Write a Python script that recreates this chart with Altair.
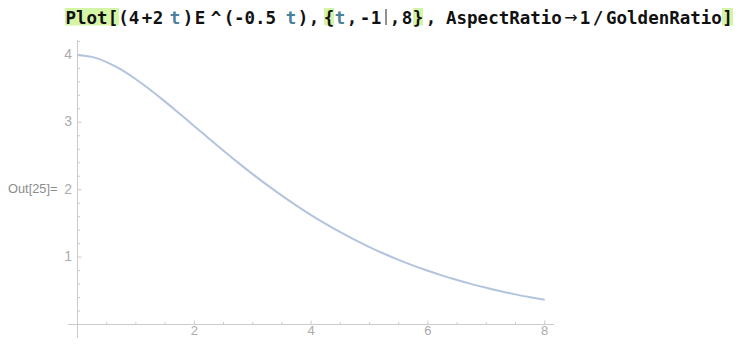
import altair as alt
import pandas as pd

# ---- curve values ----
t_vals = [0, 0.25, 0.5, 0.75, 1, 1.25, 1.5, 1.75, 2, 2.25, 2.5, 2.75, 3, 3.25, 3.5, 3.75,
          4, 4.25, 4.5, 4.75, 5, 5.25, 5.5, 5.75, 6, 6.25, 6.5, 6.75, 7, 7.25, 7.5, 7.75, 8]
f_vals = [4.0, 3.971, 3.894, 3.780, 3.639, 3.479, 3.307, 3.127, 2.943, 2.760, 2.578, 2.402,
          2.231, 2.068, 1.912, 1.764, 1.624, 1.493, 1.370, 1.256, 1.149, 1.050, 0.959, 0.874,
          0.797, 0.725, 0.660, 0.599, 0.544, 0.493, 0.447, 0.404, 0.366]

# ---- ticks ----
x_major = [2, 4, 6, 8]
x_major_labels = ["2", "4", "6", "8"]
x_minor = [0.5, 1, 1.5, 2.5, 3, 3.5, 4.5, 5, 5.5, 6.5, 7, 7.5]
y_major = [1, 2, 3, 4]
y_major_labels = ["1", "2", "3", "4"]
y_minor = [0.2, 0.4, 0.6, 0.8, 1.2, 1.4, 1.6, 1.8, 2.2, 2.4, 2.6, 2.8,
           3.2, 3.4, 3.6, 3.8, 4.2]
x_axis_extent = [-0.163, 8.16]
y_axis_extent = [-0.2, 4.22]

# ---- input-line text tokens (page x: centre, or left for multi-char tokens) ----
tokens = ["Plot", "[", "(", "4", "+", "2", "t", ")", "E", "^", "(", "-0.5", "t", ")", ",",
          "{", "t", ",", "-", "1", ",", "8", "}", ",", "AspectRatio", "1", "/",
          "GoldenRatio", "]"]
token_x = [65.5, 113, 123.5, 134, 147, 158, 175, 188, 200, 216, 229, 234, 291, 303, 314,
           329, 340, 352, 365, 376, 395, 407, 418, 431, 446, 585, 598, 606, 727.6]
token_align = ["left", "center", "center", "center", "center", "center", "center", "center",
               "center", "center", "center", "left", "center", "center", "center",
               "center", "center", "center", "center", "center", "center", "center", "center",
               "center", "left", "center", "center", "left", "center"]
token_kind = ["k", "k", "k", "k", "k", "k", "v", "k", "k", "k", "k", "k", "v", "k", "k",
              "k", "v", "k", "k", "k", "k", "k", "k", "k", "k", "k", "k", "k", "k"]
arrow_token = "\u2192"
arrow_x = 571
hl_left = [65, 324, 413, 722]
hl_right = [119, 334, 423, 733]
out_label = "Out[25]="

# ---- geometry ----
W, H = 725, 330
OFF = 8  # page margin
PX_T = 58.4   # pixels per unit t
PX_V = 67.4   # pixels per unit value
X0 = 77.5 - OFF   # chart x of t=0
Y0 = 324.5 - OFF  # chart y of value 0
X_LO, X_HI = -X0 / PX_T, (W - X0) / PX_T
Y_LO, Y_HI = (Y0 - H) / PX_V, Y0 / PX_V

AXIS_COL = "#cbcbcb"
LABEL_COL = "#ababab"
CURVE_COL = "#b3c4de"
HL_COL = "#d5f5a6"
VAR_COL = "#4b8199"
TXT_COL = "#111111"
BASE_Y = 15.8

xs = alt.Scale(domain=[X_LO, X_HI], nice=False, zero=False)
ys = alt.Scale(domain=[Y_LO, Y_HI], nice=False, zero=False)

curve_df = pd.DataFrame({"t": t_vals, "f": f_vals})
curve = alt.Chart(curve_df).mark_line(color=CURVE_COL, strokeWidth=2, interpolate="natural").encode(
    x=alt.X("t:Q", scale=xs, axis=None),
    y=alt.Y("f:Q", scale=ys, axis=None),
)

xaxis_df = pd.DataFrame({"a": [x_axis_extent[0]], "b": [x_axis_extent[1]], "v": [0]})
xaxis = alt.Chart(xaxis_df).mark_rule(color=AXIS_COL, strokeWidth=1).encode(
    x=alt.X("a:Q", scale=xs, axis=None), x2="b:Q", y=alt.Y("v:Q", scale=ys, axis=None))

yaxis_df = pd.DataFrame({"a": [y_axis_extent[0]], "b": [y_axis_extent[1]], "t": [0]})
yaxis = alt.Chart(yaxis_df).mark_rule(color=AXIS_COL, strokeWidth=1).encode(
    y=alt.Y("a:Q", scale=ys, axis=None), y2="b:Q", x=alt.X("t:Q", scale=xs, axis=None))

MAJ, MIN = 4.0, 2.5
xt_df = pd.DataFrame({
    "t": x_major + x_minor,
    "y0": [0.0] * (len(x_major) + len(x_minor)),
    "y1": [MAJ / PX_V] * len(x_major) + [MIN / PX_V] * len(x_minor),
})
xticks = alt.Chart(xt_df).mark_rule(color=AXIS_COL, strokeWidth=1).encode(
    x=alt.X("t:Q", scale=xs, axis=None), y=alt.Y("y0:Q", scale=ys, axis=None), y2="y1:Q")

yt_df = pd.DataFrame({
    "v": y_major + y_minor,
    "x0": [0.0] * (len(y_major) + len(y_minor)),
    "x1": [MAJ / PX_T] * len(y_major) + [MIN / PX_T] * len(y_minor),
})
yticks = alt.Chart(yt_df).mark_rule(color=AXIS_COL, strokeWidth=1).encode(
    y=alt.Y("v:Q", scale=ys, axis=None), x=alt.X("x0:Q", scale=xs, axis=None), x2="x1:Q")

xl_df = pd.DataFrame({"t": x_major, "lab": x_major_labels, "v": [0] * len(x_major)})
xlabels = alt.Chart(xl_df).mark_text(
    font="Liberation Sans", fontSize=13, color=LABEL_COL, align="center",
    baseline="alphabetic", dy=10.7).encode(
    x=alt.X("t:Q", scale=xs, axis=None), y=alt.Y("v:Q", scale=ys, axis=None), text="lab:N")

yl_df = pd.DataFrame({"v": y_major, "lab": y_major_labels, "t": [0] * len(y_major)})
ylabels = alt.Chart(yl_df).mark_text(
    font="Liberation Sans", fontSize=14, color=LABEL_COL, align="right",
    baseline="middle", dx=-5.5).encode(
    x=alt.X("t:Q", scale=xs, axis=None), y=alt.Y("v:Q", scale=ys, axis=None), text="lab:N")

# ---- pixel-positioned annotations (input line, Out label) ----
hl_df = pd.DataFrame({"l": [v - OFF for v in hl_left], "r": [v - OFF for v in hl_right],
                      "t0": [0] * len(hl_left), "t1": [17.5] * len(hl_left)})
highlights = alt.Chart(hl_df).mark_rect(color=HL_COL).encode(
    x=alt.X("l:Q", scale=None, axis=None), x2="r:Q",
    y=alt.Y("t0:Q", scale=None, axis=None), y2="t1:Q")

tok_df = pd.DataFrame({
    "tok": tokens,
    "px": [v - OFF for v in token_x],
    "py": [BASE_Y] * len(tokens),
    "c": [VAR_COL if k == "v" else TXT_COL for k in token_kind],
    "al": token_align,
})


def token_layer(align):
    sub = tok_df[tok_df["al"] == align]
    return alt.Chart(sub).mark_text(
        font="DejaVu Sans Mono", fontWeight="bold", fontSize=17.5, align=align,
        baseline="alphabetic").encode(
        x=alt.X("px:Q", scale=None, axis=None), y=alt.Y("py:Q", scale=None, axis=None),
        text="tok:N", color=alt.Color("c:N", scale=None))


title_left = token_layer("left")
title_center = token_layer("center")

arrow_df = pd.DataFrame({"tok": [arrow_token], "px": [arrow_x - OFF], "py": [BASE_Y - 1]})
arrow = alt.Chart(arrow_df).mark_text(
    font="DejaVu Sans", fontSize=16, color=TXT_COL, align="center",
    baseline="alphabetic").encode(
    x=alt.X("px:Q", scale=None, axis=None), y=alt.Y("py:Q", scale=None, axis=None),
    text="tok:N")

cur_df = pd.DataFrame({"px": [386 - OFF], "a": [1], "b": [17]})
cursor = alt.Chart(cur_df).mark_rule(color="#222222", strokeWidth=1).encode(
    x=alt.X("px:Q", scale=None, axis=None),
    y=alt.Y("a:Q", scale=None, axis=None), y2="b:Q")

out_df = pd.DataFrame({"lab": [out_label], "px": [8 - OFF], "py": [189 - OFF]})
out_text = alt.Chart(out_df).mark_text(
    font="Liberation Sans", fontSize=12.8, color="#8c8c8c", align="left",
    baseline="middle").encode(
    x=alt.X("px:Q", scale=None, axis=None), y=alt.Y("py:Q", scale=None, axis=None),
    text="lab:N")

chart = alt.layer(
    highlights, title_left, title_center, arrow, cursor, out_text,
    xaxis, yaxis, xticks, yticks, xlabels, ylabels, curve,
).resolve_scale(
    x="independent", y="independent", color="independent"
).properties(
    width=W, height=H, autosize="none", padding=0, background="white"
).configure_view(stroke=None)

chart.save("out.html", embed_options={"renderer": "svg", "actions": False})
